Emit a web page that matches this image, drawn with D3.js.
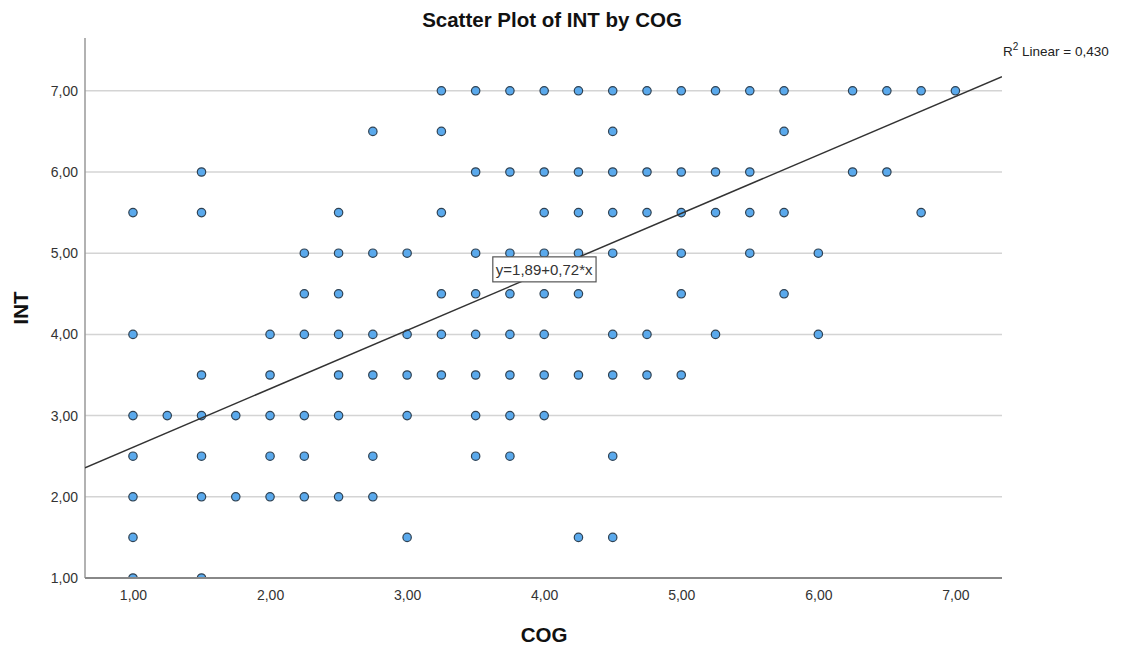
<!DOCTYPE html>
<html>
<head>
<meta charset="utf-8">
<script src="https://cdn.jsdelivr.net/npm/d3@7"></script>
<style>
  body { margin: 0; background: #fff; }
  svg { font-family: "Liberation Sans", Arial, sans-serif; }
</style>
</head>
<body>
<div id="chart"></div>
<script>
// values, one list of COG values per INT level
const intLevels = [7.0, 6.5, 6.0, 5.5, 5.0, 4.5, 4.0, 3.5, 3.0, 2.5, 2.0, 1.5, 1.0];
const cogByInt = [
  [3.25, 3.5, 3.75, 4.0, 4.25, 4.5, 4.75, 5.0, 5.25, 5.5, 5.75, 6.25, 6.5, 6.75, 7.0],
  [2.75, 3.25, 4.5, 5.75],
  [1.5, 3.5, 3.75, 4.0, 4.25, 4.5, 4.75, 5.0, 5.25, 5.5, 6.25, 6.5],
  [1.0, 1.5, 2.5, 3.25, 4.0, 4.25, 4.5, 4.75, 5.0, 5.25, 5.5, 5.75, 6.75],
  [2.25, 2.5, 2.75, 3.0, 3.5, 3.75, 4.0, 4.25, 4.5, 5.0, 5.5, 6.0],
  [2.25, 2.5, 3.25, 3.5, 3.75, 4.0, 4.25, 5.0, 5.75],
  [1.0, 2.0, 2.25, 2.5, 2.75, 3.0, 3.25, 3.5, 3.75, 4.0, 4.5, 4.75, 5.25, 6.0],
  [1.5, 2.0, 2.5, 2.75, 3.0, 3.25, 3.5, 3.75, 4.0, 4.25, 4.5, 4.75, 5.0],
  [1.0, 1.25, 1.5, 1.75, 2.0, 2.25, 2.5, 3.0, 3.5, 3.75, 4.0],
  [1.0, 1.5, 2.0, 2.25, 2.75, 3.5, 3.75, 4.5],
  [1.0, 1.5, 1.75, 2.0, 2.25, 2.5, 2.75],
  [1.0, 3.0, 4.25, 4.5],
  [1.0, 1.5]
];
const xTicks = [1, 2, 3, 4, 5, 6, 7];
const yTicks = [1, 2, 3, 4, 5, 6, 7];
const intercept = 1.89;
const slope = 0.72;
const rSquared = "0,430";

const points = [];
intLevels.forEach(function(yv, i) {
  cogByInt[i].forEach(function(xv) { points.push({x: xv, y: yv}); });
});

const width = 1124, height = 648;
const plotLeft = 85, plotRight = 1002, plotTop = 38, plotBottom = 578;
const fmt = function(d) { return d3.format(".2f")(d).replace(".", ","); };

const svg = d3.select("#chart").append("svg")
    .attr("width", width)
    .attr("height", height);

const x = d3.scaleLinear().domain([0.65, 7.34]).range([plotLeft, plotRight]);
const y = d3.scaleLinear().domain([1, 7.65]).range([plotBottom, plotTop]);

svg.append("defs").append("clipPath").attr("id", "plot")
  .append("rect")
    .attr("x", plotLeft).attr("y", plotTop)
    .attr("width", plotRight - plotLeft).attr("height", plotBottom - plotTop);

// horizontal grid lines
svg.append("g")
  .selectAll("line")
  .data(yTicks.filter(d => d > 1))
  .enter().append("line")
    .attr("x1", plotLeft).attr("x2", plotRight)
    .attr("y1", d => y(d)).attr("y2", d => y(d))
    .attr("stroke", "#d4d4d4")
    .attr("stroke-width", 1.5);

// axes (no tick marks, only labels)
const xAxis = svg.append("g")
    .attr("transform", `translate(0,${plotBottom})`)
    .call(d3.axisBottom(x).tickValues(xTicks).tickFormat(fmt).tickSize(0).tickPadding(12));
const yAxis = svg.append("g")
    .attr("transform", `translate(${plotLeft},0)`)
    .call(d3.axisLeft(y).tickValues(yTicks).tickFormat(fmt).tickSize(0).tickPadding(7));
[xAxis, yAxis].forEach(function(ax) {
  ax.selectAll("text").attr("font-size", 14).attr("fill", "#333")
    .attr("font-family", "'Liberation Sans', Arial, sans-serif");
});
xAxis.select(".domain").remove();
yAxis.select(".domain").remove();

svg.append("line")
    .attr("x1", plotLeft).attr("x2", plotLeft)
    .attr("y1", plotTop).attr("y2", plotBottom)
    .attr("stroke", "#999").attr("stroke-width", 1.5);

// points
svg.append("g")
    .attr("clip-path", "url(#plot)")
  .selectAll("circle")
  .data(points)
  .enter().append("circle")
    .attr("cx", d => x(d.x))
    .attr("cy", d => y(d.y))
    .attr("r", 4.2)
    .attr("fill", "#5aa9ec")
    .attr("stroke", "#2f4253")
    .attr("stroke-width", 1.2);

svg.append("line")
    .attr("x1", plotLeft).attr("x2", plotRight)
    .attr("y1", plotBottom).attr("y2", plotBottom)
    .attr("stroke", "#888").attr("stroke-width", 2);

// fit line
const xd = x.domain();
svg.append("line")
    .attr("clip-path", "url(#plot)")
    .attr("x1", x(xd[0])).attr("y1", y(intercept + slope * xd[0]))
    .attr("x2", x(xd[1])).attr("y2", y(intercept + slope * xd[1]))
    .attr("stroke", "#333")
    .attr("stroke-width", 1.5);

// equation label, near the line at COG = 4
const lx = x(4), ly = y(intercept + slope * 4);
const eq = svg.append("g");
const eqText = eq.append("text")
    .attr("x", lx).attr("y", ly + 3)
    .attr("text-anchor", "middle")
    .attr("font-size", 15).attr("fill", "#333")
    .text("y=1,89+0,72*x");
const bb = eqText.node().getBBox();
eq.insert("rect", "text")
    .attr("x", bb.x - 3).attr("y", ly - 15)
    .attr("width", bb.width + 6).attr("height", 25)
    .attr("fill", "#fff").attr("stroke", "#555").attr("stroke-width", 1.2);

// R squared annotation
const r2 = svg.append("text")
    .attr("x", 1003).attr("y", 56)
    .attr("font-size", 13.5).attr("fill", "#222");
r2.append("tspan").text("R");
r2.append("tspan").attr("dy", -6).attr("font-size", 10).text("2");
r2.append("tspan").attr("dy", 6).text(" Linear = " + rSquared);

// titles
svg.append("text")
    .attr("x", 552).attr("y", 27)
    .attr("text-anchor", "middle")
    .attr("font-size", 20.5).attr("font-weight", "bold").attr("fill", "#111")
    .text("Scatter Plot of INT by COG");
svg.append("text")
    .attr("x", 544).attr("y", 642)
    .attr("text-anchor", "middle")
    .attr("font-size", 20.5).attr("font-weight", "bold").attr("fill", "#111")
    .text("COG");
svg.append("text")
    .attr("transform", "translate(28,308) rotate(-90)")
    .attr("text-anchor", "middle")
    .attr("font-size", 20.5).attr("font-weight", "bold").attr("fill", "#111")
    .text("INT");
</script>
</body>
</html>
